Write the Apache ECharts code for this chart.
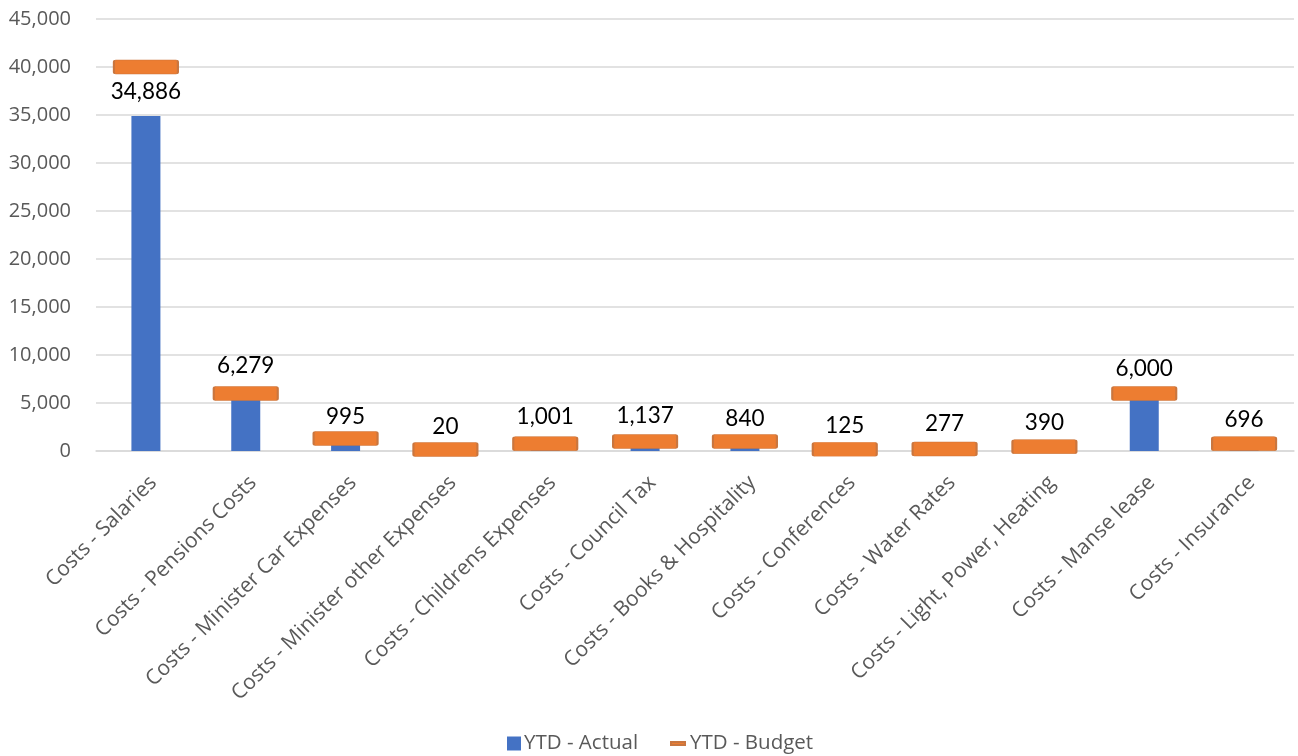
<!DOCTYPE html>
<html>
<head>
<meta charset="utf-8">
<script src="https://cdn.jsdelivr.net/npm/echarts@6/dist/echarts.min.js"></script>
<style>
  html, body { margin: 0; padding: 0; background: #ffffff; }
  #chart { width: 1298px; height: 756px; }
</style>
</head>
<body>
<div id="chart"></div>
<script>
// Cost lines
const categories = [
  'Costs - Salaries',
  'Costs - Pensions Costs',
  'Costs - Minister Car Expenses',
  'Costs - Minister other Expenses',
  'Costs - Childrens Expenses',
  'Costs - Council Tax',
  'Costs - Books & Hospitality',
  'Costs - Conferences',
  'Costs - Water Rates',
  'Costs - Light, Power, Heating',
  'Costs - Manse lease',
  'Costs - Insurance'
];

// Year-to-date actual spend
const ytdActual = [34886, 6279, 995, 20, 1001, 1137, 840, 125, 277, 390, 6000, 696];

// Year-to-date budget
const ytdBudget = [40000, 6000, 1300, 150, 750, 1000, 1000, 170, 200, 450, 6000, 750];

// Value axis ticks
const yTicks = [0, 5000, 10000, 15000, 20000, 25000, 30000, 35000, 40000, 45000];

const fmt = v => v.toLocaleString('en-US');
const axisFont = '"Open Sans", "Noto Sans", sans-serif';
const valueFont = 'Lato, "Open Sans", sans-serif';
const grey = '#595959';

// Budget marker: a flat bar with slightly rounded corners
const budgetMarker = 'path://M2,0 H62 Q64,0 64,2 V12 Q64,14 62,14 H2 Q0,14 0,12 V2 Q0,0 2,0 Z';

const chart = echarts.init(document.getElementById('chart'), null, { renderer: 'canvas' });

chart.setOption({
  animation: false,
  backgroundColor: '#ffffff',
  textStyle: { fontFamily: axisFont },
  grid: { left: 96, right: 4, top: 19, bottom: 305, containLabel: false },
  legend: [
    {
      data: ['YTD - Actual'],
      left: 507, top: 733, padding: 0,
      icon: 'rect', itemWidth: 14, itemHeight: 14, itemGap: 6,
      textStyle: { color: grey, fontSize: 20.5, fontFamily: axisFont, padding: [0, 0, 0, -2] }
    },
    {
      data: ['YTD - Budget'],
      left: 670, top: 733, padding: 0,
      icon: 'rect', itemWidth: 14, itemHeight: 3,
      textStyle: { color: grey, fontSize: 20.5, fontFamily: axisFont }
    }
  ],
  xAxis: {
    type: 'category',
    data: categories,
    boundaryGap: true,
    axisLine: { show: true, lineStyle: { color: '#d9d9d9', width: 1.5 } },
    axisTick: { show: false },
    axisLabel: {
      interval: 0,
      rotate: 45,
      align: 'right',
      verticalAlign: 'top',
      margin: 21,
      color: grey,
      fontSize: 21,
      fontFamily: axisFont
    }
  },
  yAxis: {
    type: 'value',
    min: yTicks[0],
    max: yTicks[yTicks.length - 1],
    interval: yTicks[1] - yTicks[0],
    axisLine: { show: false },
    axisTick: { show: false },
    splitLine: { lineStyle: { color: '#d9d9d9', width: 1.5 } },
    axisLabel: {
      color: grey,
      fontSize: 20,
      margin: 25,
      fontFamily: axisFont,
      formatter: v => fmt(v)
    }
  },
  series: [
    {
      name: 'YTD - Actual',
      type: 'bar',
      data: ytdActual,
      barWidth: 29,
      itemStyle: { color: '#4472C4' },
      label: {
        show: true,
        position: 'top',
        distance: 13,
        color: '#000000',
        fontSize: 22.5,
        fontFamily: valueFont,
        formatter: p => fmt(p.value)
      },
      z: 2
    },
    {
      name: 'YTD - Budget',
      type: 'scatter',
      data: ytdBudget,
      symbol: budgetMarker,
      symbolSize: [64, 14],
      itemStyle: {
        color: '#ED7D31',
        opacity: 1,
        borderColor: '#c9763f',
        borderWidth: 1
      },
      z: 3
    }
  ]
});
</script>
</body>
</html>
